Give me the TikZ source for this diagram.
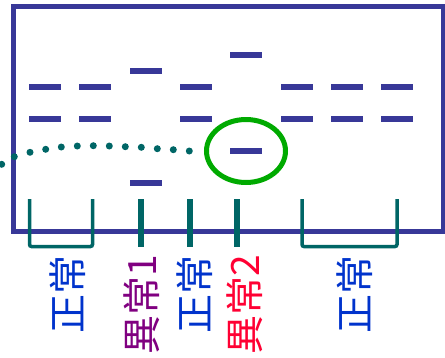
\documentclass[tikz,border=0pt]{standalone}
\usepackage{fontspec}
\newfontfamily\cjkfont{Noto Sans CJK JP}
\usetikzlibrary{shapes.geometric}
\definecolor{framecol}{RGB}{56,56,152}
\definecolor{tealcol}{RGB}{0,102,102}
\definecolor{ringcol}{RGB}{0,170,0}
\definecolor{okcol}{RGB}{0,51,204}
\definecolor{oddAcol}{RGB}{128,0,128}
\definecolor{oddBcol}{RGB}{255,0,51}
\tikzset{
  dashbar/.style={rectangle, fill=framecol, minimum width=32pt, minimum height=6pt, inner sep=0pt},
  ring/.style={ellipse, draw=ringcol, line width=5pt, minimum width=79pt, minimum height=63pt, inner sep=0pt},
  thinmark/.style={draw=tealcol, line width=3.5pt, rounded corners=2pt},
  thickmark/.style={draw=tealcol, line width=6pt},
  trailing dot/.style={circle, fill=tealcol, minimum size=7pt, inner sep=0pt},
  vlabel/.style={rotate=90, anchor=east, inner sep=0pt, font=\cjkfont\fontsize{39}{42}\selectfont}
}
\begin{document}
\begin{tikzpicture}[x=1pt,y=-1pt]
\useasboundingbox (0,0) rectangle (445,357);
% outer frame
\draw[framecol, line width=5pt] (13.5,6.5) rectangle (443,231);
% dash marks, column by column
\node[dashbar] (a1) at (45,87) {};
\node[dashbar] (b1) at (45,119) {};
\node[dashbar] (a2) at (95,87) {};
\node[dashbar] (b2) at (95,119) {};
\node[dashbar] (a3) at (146,71) {};
\node[dashbar] (b3) at (146,183) {};
\node[dashbar] (a4) at (196,87) {};
\node[dashbar] (b4) at (196,119) {};
\node[dashbar] (a5) at (246,55) {};
\node[dashbar] (b5) at (246,151) {};
\node[dashbar] (a6) at (297,87) {};
\node[dashbar] (b6) at (297,119) {};
\node[dashbar] (a7) at (347,87) {};
\node[dashbar] (b7) at (347,119) {};
\node[dashbar] (a8) at (397,87) {};
\node[dashbar] (b8) at (397,119) {};
% ring around the odd mark
\node[ring] (ring) at (b5) {};
% dotted trail leading to the ring
\foreach \px/\py [count=\k] in {1.7/164.3, 14.3/156.7, 30/152.3, 45.7/149.3, 61.3/147,
    77.3/146, 93.3/145.7, 109.3/146, 125.3/146.7, 141.3/147.3, 157.3/148.7,
    173.3/149.7, 189.3/151}
  \node[trailing dot] (d\k) at (\px,\py) {};
% brackets and ticks under the columns
\coordinate (l1) at (29.5,199);
\coordinate (l2) at (92.5,199);
\coordinate (r1) at (302,199);
\coordinate (r2) at (397,199);
\draw[thinmark] (l1) -- ++(0,47.5) -| (l2);
\draw[thinmark] (r1) -- ++(0,47.5) -| (r2);
\coordinate (t1) at (141.3,199);
\coordinate (t2) at (189.5,199);
\coordinate (t3) at (237.3,199);
\draw[thickmark] (t1) -- ++(0,47.5);
\draw[thickmark] (t2) -- ++(0,47.5);
\draw[thickmark] (t3) -- ++(0,47.5);
% labels
\node[vlabel, text=okcol] (n1) at (68,255) {正常};
\node[vlabel, text=oddAcol] (n2) at (141.5,255) {異常1};
\node[vlabel, text=okcol] (n3) at (195,255) {正常};
\node[vlabel, text=oddBcol] (n4) at (245,255) {異常2};
\node[vlabel, text=okcol] (n5) at (355,255) {正常};
\end{tikzpicture}
\end{document}
